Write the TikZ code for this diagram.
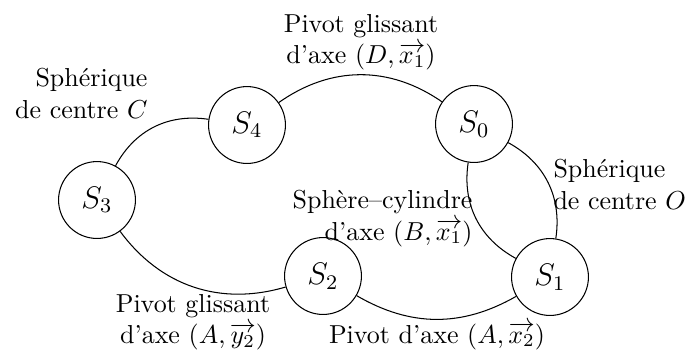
\documentclass[tikz,border=0pt]{standalone}
\usepackage{amsmath,amssymb}
\usepackage{tikz}
\usetikzlibrary{positioning}

\begin{document}
\begin{tikzpicture}[
    x=0.385pt, y=0.385pt,
    solide/.style={circle, draw, minimum size=29.6pt, inner sep=0pt, font=\large},
    liaison/.style={thin},
    lbl/.style={inner sep=0pt}
]
    \useasboundingbox (0,0) rectangle (691,-353);

    % Solides
    \node[solide] (s4) at (247,-125) {$S_4$};
    \node[solide] (s0) at (474,-124) {$S_0$};
    \node[solide] (s3) at (97,-200) {$S_3$};
    \node[solide] (s2) at (323,-276) {$S_2$};
    \node[solide] (s1) at (550,-277) {$S_1$};

    % Liaisons
    \draw[liaison] (s4) to[bend left=35] (s0);
    \draw[liaison] (s3) to[bend left=35] (s4);
    \draw[liaison] (s3) to[bend right=35] (s2);
    \draw[liaison] (s2) to[bend right=30] (s1);
    \draw[liaison] (s0) to[bend right=35] (s1);
    \draw[liaison] (s0) to[bend left=35] (s1);

    % Noms des liaisons
    \node[lbl, anchor=north, align=center] (l40) at (361,-14) {Pivot glissant\\d'axe $(D,\overrightarrow{x_1})$};
    \node[lbl, anchor=north east, align=right] (l34) at (148,-68) {Sphérique\\de centre $C$};
    \node[lbl, anchor=north west, align=left] (l01b) at (553,-159) {Sphérique\\de centre $O$};
    \node[lbl, anchor=north east, align=right] (l01a) at (473,-190) {Sphère--cylindre\\d'axe $(B,\overrightarrow{x_1})$};
    \node[lbl, anchor=north, align=center] (l32) at (193,-294) {Pivot glissant\\d'axe $(A,\overrightarrow{y_2})$};
    \node[lbl, anchor=base] (l21) at (437,-343) {Pivot d'axe $(A,\overrightarrow{x_2})$};
\end{tikzpicture}
\end{document}
